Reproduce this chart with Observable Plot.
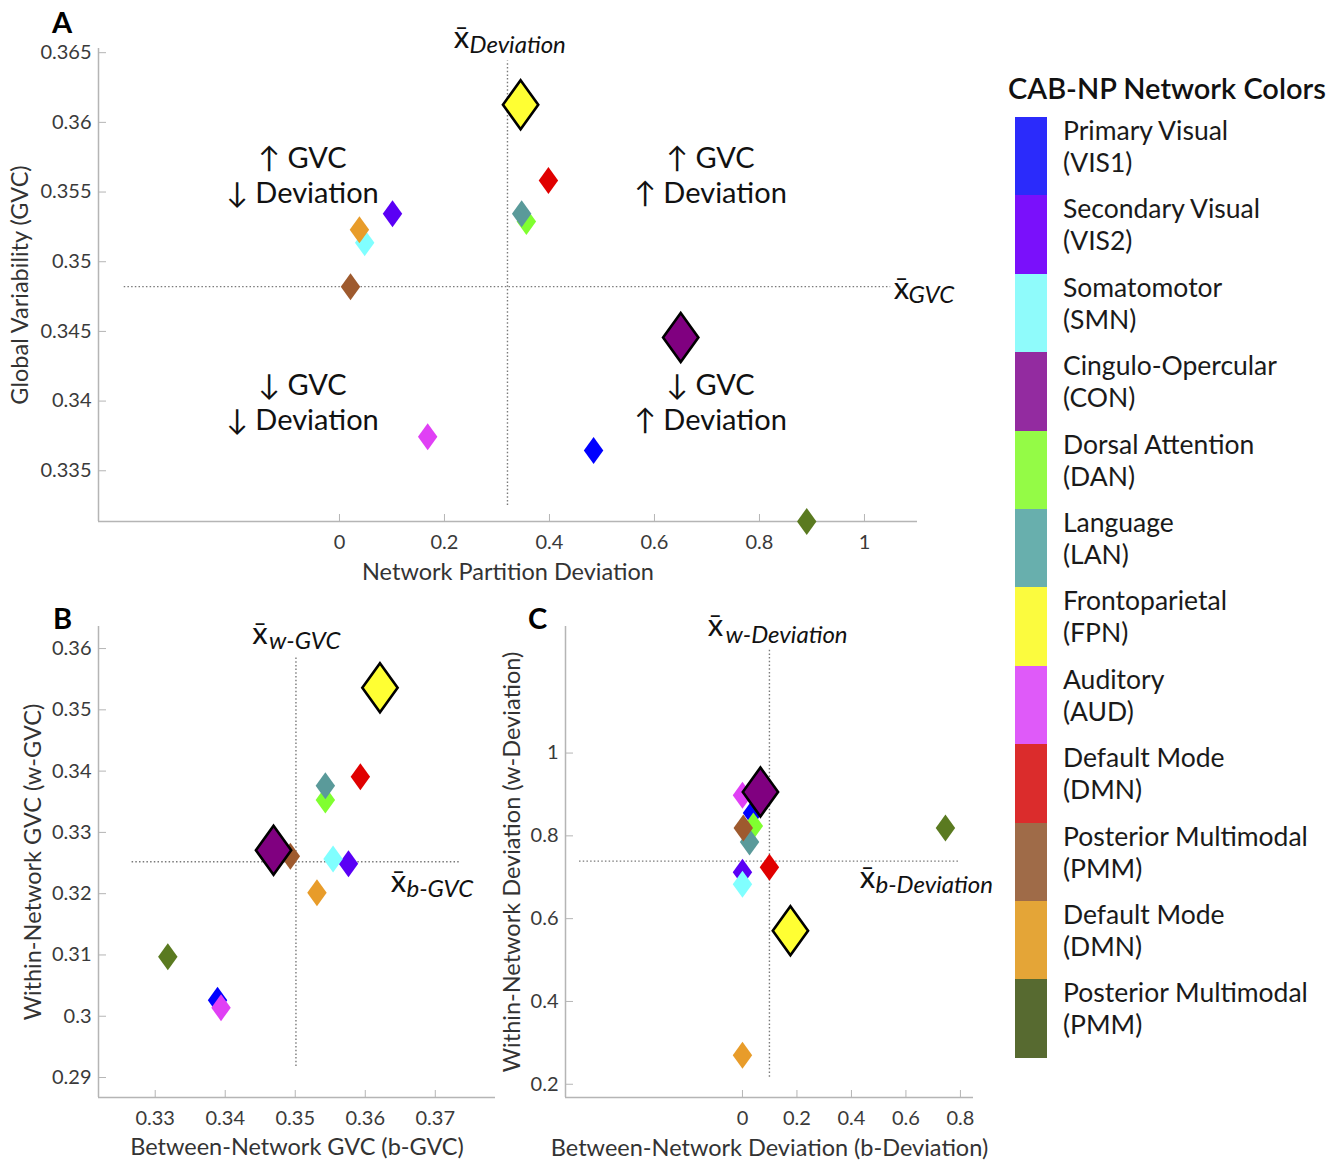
<!DOCTYPE html>
<html>
<head>
<meta charset="utf-8">
<script src="https://cdn.jsdelivr.net/npm/d3@7"></script>
<script src="https://cdn.jsdelivr.net/npm/@observablehq/plot@0.6"></script>
<style>
  body { margin: 0; background: #fff; font-family: Lato, "DejaVu Sans", sans-serif; }
  #root { position: relative; width: 1343px; height: 1162px; overflow: hidden; background: #fff; }
  .panel { position: absolute; }
  .letter { position: absolute; font-family: Lato, sans-serif; font-weight: bold; font-size: 29px; line-height: 1; color: #000; }
  #legend { position: absolute; left: 1008px; top: 68px; color: #111; }
  #legend .title { font-size: 29px; font-weight: 600; line-height: 40px; white-space: nowrap; margin-bottom: 9px; }
  #legend .row { position: relative; height: 78.4px; }
  #legend .sw { position: absolute; left: 7px; top: 0; width: 32px; height: 78.4px; }
  #legend .lab { position: absolute; left: 55px; top: -3px; font-size: 26.5px; line-height: 32px; white-space: nowrap; color: #1a1a1a; }
</style>
</head>
<body>
<div id="root"></div>
<script>
// ---------------- data ----------------
const legendNames = ["Primary Visual", "Secondary Visual", "Somatomotor", "Cingulo-Opercular", "Dorsal Attention", "Language", "Frontoparietal", "Auditory", "Default Mode", "Posterior Multimodal", "Default Mode", "Posterior Multimodal"];
const legendAbbr = ["VIS1", "VIS2", "SMN", "CON", "DAN", "LAN", "FPN", "AUD", "DMN", "PMM", "DMN", "PMM"];
const legendColors = ["#2b2bfb", "#7a10fb", "#8ffbfb", "#932ba0", "#94fb46", "#68afad", "#fbfb3e", "#df5af9", "#db2c2c", "#9f6b48", "#e4a537", "#576a30"];
const markerColors = ["#0000ff", "#5a00f5", "#80ffff", "#800080", "#80ff30", "#5a9a9a", "#ffff33", "#e040f5", "#e00000", "#9e5a2e", "#e89c2a", "#5a7a20"];
const highlighted = [false, false, false, true, false, false, true, false, false, false, false, false];

// Panel A: Network Partition Deviation vs Global Variability (GVC)
const aDeviation = [0.484, 0.101, 0.048, 0.65, 0.356, 0.347, 0.345, 0.168, 0.398, 0.021, 0.038, 0.89];
const aGVC = [0.33645, 0.35345, 0.35137, 0.34456, 0.35288, 0.35345, 0.36127, 0.33745, 0.35582, 0.34821, 0.3523, 0.33136];
const aMeans = [0.32, 0.34821];
const aXTicks = [0, 0.2, 0.4, 0.6, 0.8, 1];
const aYTicks = [0.335, 0.34, 0.345, 0.35, 0.355, 0.36, 0.365];

// Panel B: between-network GVC vs within-network GVC
const bBetweenGVC = [0.3389, 0.3576, 0.3554, 0.3469, 0.3543, 0.3543, 0.3621, 0.3394, 0.3593, 0.3493, 0.3531, 0.3318];
const bWithinGVC = [0.3026, 0.32487, 0.32564, 0.3271, 0.3353, 0.3376, 0.3536, 0.3014, 0.3391, 0.32612, 0.32015, 0.3097];
const bMeans = [0.3501, 0.3252];
const bXTicks = [0.33, 0.34, 0.35, 0.36, 0.37];
const bYTicks = [0.29, 0.3, 0.31, 0.32, 0.33, 0.34, 0.35, 0.36];

// Panel C: between-network deviation vs within-network deviation
const cBetweenDev = [0.037, 0.0, 0.0, 0.066, 0.04, 0.026, 0.176, 0.0, 0.099, 0.003, 0.0, 0.745];
const cWithinDev = [0.855, 0.712, 0.683, 0.906, 0.824, 0.785, 0.571, 0.898, 0.724, 0.819, 0.27, 0.819];
const cMeans = [0.099, 0.739];
const cXTicks = [0, 0.2, 0.4, 0.6, 0.8];
const cYTicks = [0.2, 0.4, 0.6, 0.8, 1];

// Quadrant annotations (panel A)
const quadText = ["\u2191 GVC\n\u2193 Deviation", "\u2191 GVC\n\u2191 Deviation", "\u2193 GVC\n\u2193 Deviation", "\u2193 GVC\n\u2191 Deviation"];
const quadX = [-0.0705, 0.7067, -0.0705, 0.7067];
const quadY = [0.35628, 0.35628, 0.34, 0.34];

// ---------------- drawing ----------------
const FONT = "Lato, 'DejaVu Sans', sans-serif";
const tallDiamond = {
  draw(ctx, size) {
    const r = Math.sqrt(size / Math.PI);
    const w = r * 0.72;
    ctx.moveTo(0, -r); ctx.lineTo(w, 0); ctx.lineTo(0, r); ctx.lineTo(-w, 0); ctx.closePath();
  }
};
const fmt = d => String(+d.toFixed(4));
const XBAR = "x\u0304";

function makePanel(p) {
  const idx = d3.range(p.xs.length);
  const small = idx.filter(i => !highlighted[i]);
  const big = idx.filter(i => highlighted[i]);
  const dotted = {stroke: "#7a7a7a", strokeDasharray: "1.5,2.2", strokeWidth: 1.4};
  const barStyle = {fontSize: 31, fill: "#111", textAnchor: "middle", lineAnchor: "middle"};
  const subStyle = {fontSize: 24, fill: "#111", textAnchor: "start", lineAnchor: "middle", fontStyle: "italic"};
  return Plot.plot({
    width: p.width, height: p.height,
    marginTop: p.margin[0], marginRight: p.margin[1], marginBottom: p.margin[2], marginLeft: p.margin[3],
    style: {fontFamily: FONT, fontSize: "20px", color: "#333", background: "transparent", overflow: "visible"},
    x: {domain: p.xDomain},
    y: {domain: p.yDomain},
    color: {type: "identity"},
    marks: [
      Plot.ruleX([p.xDomain[0]], {stroke: "#b5b5b5", strokeWidth: 1.5}),
      Plot.ruleY([p.yDomain[0]], {stroke: "#b5b5b5", strokeWidth: 1.5}),
      Plot.axisX(p.xTicks, {anchor: "bottom", tickSize: -7, tickPadding: 20, tickFormat: fmt, stroke: "#b5b5b5", fill: "#3a3a3a", fontSize: 20, label: null}),
      Plot.axisY(p.yTicks, {anchor: "left", tickSize: -8, tickPadding: 15, tickFormat: fmt, stroke: "#b5b5b5", fill: "#3a3a3a", fontSize: 20, label: null}),
      Plot.ruleX([p.means[0]], {x: d => d, y1: p.vExtent[0], y2: p.vExtent[1], ...dotted}),
      Plot.ruleY([p.means[1]], {y: d => d, x1: p.hExtent[0], x2: p.hExtent[1], ...dotted}),
      ...(p.extra || []),
      Plot.dot(small, {x: i => p.xs[i], y: i => p.ys[i], fill: i => markerColors[i], symbol: tallDiamond, r: 13.5}),
      Plot.dot(big, {x: i => p.xs[i], y: i => p.ys[i], fill: i => markerColors[i], symbol: tallDiamond, r: 24.5, stroke: "#000", strokeWidth: 2.6}),
      Plot.text([p.xLabel], {frameAnchor: "bottom", dy: p.xLabelDy, text: d => d, fontSize: 23.5, fill: "#333", textAnchor: "middle", lineAnchor: "middle"}),
      Plot.text([p.yLabel], {frameAnchor: "left", rotate: -90, dx: p.yLabelDx, text: d => d, fontSize: 23.5, fill: "#333", textAnchor: "middle", lineAnchor: "middle"}),
      // mean labels (vertical mean line)
      Plot.text([p.means[0]], {x: d => d, frameAnchor: "top", text: () => XBAR, dx: p.vLab[0], dy: p.vLab[1], ...barStyle}),
      Plot.text([p.means[0]], {x: d => d, frameAnchor: "top", text: () => p.vLab[4], dx: p.vLab[2], dy: p.vLab[3], ...subStyle}),
      // mean labels (horizontal mean line)
      Plot.text([p.means[1]], {y: d => d, frameAnchor: "right", text: () => XBAR, dx: p.hLab[0], dy: p.hLab[1], ...barStyle}),
      Plot.text([p.means[1]], {y: d => d, frameAnchor: "right", text: () => p.hLab[4], dx: p.hLab[2], dy: p.hLab[3], ...subStyle})
    ]
  });
}

const root = document.getElementById("root");
function place(node, left, top) {
  node.classList.add("panel");
  node.style.left = left + "px";
  node.style.top = top + "px";
  root.appendChild(node);
}

const panelA = makePanel({
  width: 960, height: 590, margin: [48, 43, 69, 98],
  xDomain: [-0.459, 1.101], yDomain: [0.33136, 0.3653],
  xTicks: aXTicks, yTicks: aYTicks, xs: aDeviation, ys: aGVC, means: aMeans,
  vExtent: [0.3325, 0.3644], hExtent: [-0.41, 1.05],
  xLabel: "Network Partition Deviation", yLabel: "Global Variability (GVC)",
  xLabelDy: 51, yLabelDx: -78,
  vLab: [-46, -10, -38, -3, "Deviation"],
  hLab: [-16, 2, -9, 9, "GVC"],
  extra: [Plot.text(quadText, {x: (d, i) => quadX[i], y: (d, i) => quadY[i], text: d => d, fontSize: 29, lineHeight: 1.22, fill: "#111", textAnchor: "middle", lineAnchor: "middle"})]
});
place(panelA, 0, 0);

const panelB = makePanel({
  width: 500, height: 572, margin: [36, 5, 65, 98],
  xDomain: [0.3219, 0.3786], yDomain: [0.28674, 0.3636],
  xTicks: bXTicks, yTicks: bYTicks, xs: bBetweenGVC, ys: bWithinGVC, means: bMeans,
  vExtent: [0.2918, 0.3586], hExtent: [0.3267, 0.3737],
  xLabel: "Between-Network GVC (b-GVC)", yLabel: "Within-Network GVC (w-GVC)",
  xLabelDy: 50, yLabelDx: -65,
  vLab: [-36, 8, -27, 15, "w-GVC"],
  hLab: [-97, 20, -89, 27, "b-GVC"]
});
place(panelB, 0, 590);

const panelC = makePanel({
  width: 510, height: 572, margin: [36, 27, 65, 75],
  xDomain: [-0.6495, 0.848], yDomain: [0.168, 1.3057],
  xTicks: cXTicks, yTicks: cYTicks, xs: cBetweenDev, ys: cWithinDev, means: cMeans,
  vExtent: [0.217, 1.253], hExtent: [-0.598, 0.8],
  xLabel: "Between-Network Deviation (b-Deviation)", yLabel: "Within-Network Deviation (w-Deviation)",
  xLabelDy: 51, yLabelDx: -53,
  vLab: [-54, 0, -44, 9, "w-Deviation"],
  hLab: [-106, 17, -98, 24, "b-Deviation"]
});
place(panelC, 490, 590);

// panel letters
[["A", 52, 7], ["B", 53, 603], ["C", 528, 603]].forEach(([t, l, tp]) => {
  const d = document.createElement("div");
  d.className = "letter"; d.textContent = t; d.style.left = l + "px"; d.style.top = tp + "px";
  root.appendChild(d);
});

// legend
const legend = d3.select(root).append("div").attr("id", "legend");
legend.append("div").attr("class", "title").text("CAB-NP Network Colors");
const rows = legend.selectAll(".row").data(d3.range(legendNames.length)).join("div").attr("class", "row");
rows.append("div").attr("class", "sw").style("background", i => legendColors[i]);
rows.append("div").attr("class", "lab").html(i => legendNames[i] + "<br>(" + legendAbbr[i] + ")");
</script>
</body>
</html>
